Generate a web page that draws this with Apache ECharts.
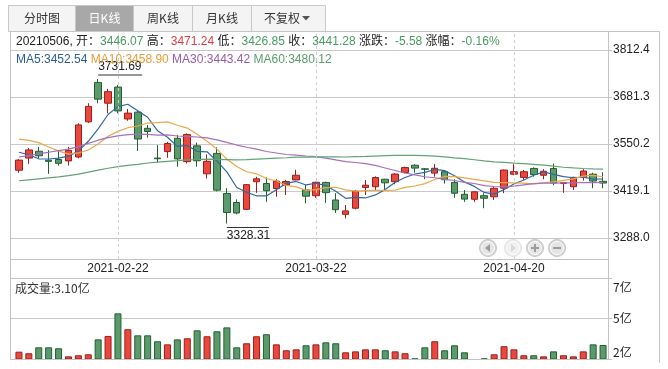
<!DOCTYPE html>
<html><head><meta charset="utf-8">
<script src="https://cdn.jsdelivr.net/npm/echarts@6/dist/echarts.min.js"></script>
<style>html,body{margin:0;padding:0;background:#fff}#c{width:668px;height:369px}</style>
</head><body><div id="c"></div>
<script>
const dates = ['2021-02-01','2021-02-02','2021-02-03','2021-02-04','2021-02-05','2021-02-08','2021-02-09','2021-02-10','2021-02-18','2021-02-19',
'2021-02-22','2021-02-23','2021-02-24','2021-02-25','2021-02-26','2021-03-01','2021-03-02','2021-03-03','2021-03-04','2021-03-05',
'2021-03-08','2021-03-09','2021-03-10','2021-03-11','2021-03-12','2021-03-15','2021-03-16','2021-03-17','2021-03-18','2021-03-19',
'2021-03-22','2021-03-23','2021-03-24','2021-03-25','2021-03-26','2021-03-29','2021-03-30','2021-03-31','2021-04-01','2021-04-02',
'2021-04-06','2021-04-07','2021-04-08','2021-04-09','2021-04-12','2021-04-13','2021-04-14','2021-04-15','2021-04-16','2021-04-19',
'2021-04-20','2021-04-21','2021-04-22','2021-04-23','2021-04-26','2021-04-27','2021-04-28','2021-04-29','2021-04-30','2021-05-06'];

// [open, close, low, high]
const ohlc = [
[3477,3505.28,3470,3508],[3511,3533.68,3495,3539],[3530,3517.31,3511,3542],[3505,3501.86,3467,3533],[3507,3496.33,3490,3533],
[3503,3532.44,3490,3542],[3514,3603.49,3510,3608],[3612,3655.09,3609,3664],[3722,3675.36,3664,3731.69],[3664,3696.17,3636,3704],
[3709,3642.44,3636,3715],[3620,3636.36,3615,3648],[3639,3564.08,3531,3643],[3594,3585.05,3568,3603],[3511,3509.08,3498,3547],
[3529,3551.40,3512,3556],[3566,3508.59,3487,3575],[3501,3576.90,3496,3580],[3545,3503.49,3487,3554],[3467,3501.99,3454,3521],
[3524,3421.41,3418,3541],[3412,3359.29,3328.31,3427],[3387,3357.74,3354,3396],[3368,3436.83,3366,3438],[3445,3453.08,3414,3459],
[3440,3419.95,3389,3457],[3426,3446.73,3403,3452],[3436,3445.55,3408,3450],[3450,3463.07,3449,3478],[3422,3404.66,3385,3436],
[3406,3443.44,3400,3445],[3443,3414.41,3386,3445],[3394,3367.06,3358,3413],[3354,3363.59,3343,3380],[3371,3418.33,3368,3422],
[3429,3435.30,3408,3450],[3431,3456.68,3422,3460],[3452,3441.91,3422,3453],[3445,3466.33,3438,3469],[3471,3484.39,3468,3487],
[3491,3482.97,3470,3494],[3481,3479.63,3452,3483],[3469,3482.48,3459,3494],[3473,3450.68,3440,3476],[3443,3412.95,3400,3452],
[3410,3396.47,3389,3422],[3396,3416.75,3389,3418],[3406,3398.99,3371,3413],[3403,3426.62,3394,3430],[3427,3477.55,3413,3479],
[3466,3472.94,3463,3494],[3457,3472.89,3450,3478],[3482,3465.11,3459,3485],[3463,3474.17,3452,3480],[3482,3441.17,3435,3496],
[3440,3442.61,3414,3444],[3431,3457.07,3422,3459],[3457,3474.90,3448,3480],[3466,3446.86,3427,3470],[3446.07,3441.28,3426.85,3471.24]];

// volume in 亿
const volumes = [2.67,2.57,2.95,2.95,2.89,2.37,2.44,2.50,3.46,3.68,
5.13,4.11,3.72,3.72,3.34,3.14,3.46,3.53,4.04,3.66,
3.98,4.23,2.95,3.21,3.66,3.79,3.14,2.76,2.82,3.08,
3.14,3.27,3.21,2.63,2.69,2.82,2.82,2.76,2.69,2.57,
2.24,2.95,3.34,2.76,3.08,2.63,2.21,2.24,2.50,3.02,
2.82,2.44,2.44,2.37,2.69,2.44,2.37,2.69,3.14,3.10];

const ma5 = [3527.3,3520.1,3508.9,3508.3,3510.9,3516.3,3530.3,3557.8,3592.5,3632.5,3654.5,3661.1,3642.9,3624.8,3587.4,3569.2,3543.7,3546.2,3529.9,3528.5,
3502.5,3472.6,3428.8,3415.4,3405.7,3405.4,3422.9,3440.4,3445.7,3436.0,3440.7,3434.2,3418.5,3398.6,3401.4,3399.7,3408.2,3423.2,3443.7,3456.9,
3466.5,3471.0,3479.2,3476.0,3461.8,3444.5,3431.9,3415.2,3410.4,3423.3,3438.6,3449.8,3463.0,3472.5,3465.3,3459.2,3456.0,3458.0,3452.5,3452.54];
const ma10 = [3563.8,3560.5,3554.0,3542.0,3531.0,3521.8,3525.2,3533.4,3550.4,3571.7,3585.4,3595.7,3600.4,3608.7,3610.0,3611.9,3602.4,3594.6,3577.4,3558.0,
3535.9,3508.1,3487.5,3472.7,3467.1,3453.9,3447.7,3434.6,3430.6,3420.8,3423.0,3428.6,3429.5,3422.2,3418.7,3420.2,3421.2,3420.9,3421.2,3429.1,
3433.1,3439.6,3451.2,3459.9,3459.3,3455.5,3451.5,3447.2,3443.2,3442.5,3441.5,3440.9,3439.1,3441.5,3444.3,3448.9,3452.9,3460.5,3462.5,3458.90];
const ma30 = [3514.0,3517.8,3523.1,3527.1,3531.5,3536.0,3542.9,3552.1,3560.8,3568.2,3572.8,3576.4,3576.9,3577.2,3575.1,3575.8,3572.5,3571.7,3569.7,3567.5,
3561.7,3554.8,3547.3,3541.1,3536.0,3529.2,3525.1,3520.9,3519.4,3516.8,3514.8,3510.8,3505.8,3501.2,3498.6,3495.3,3490.4,3483.3,3476.4,3469.3,
3464.0,3458.8,3456.1,3451.6,3448.4,3443.2,3440.1,3434.2,3431.7,3430.8,3432.6,3436.3,3439.9,3441.2,3440.8,3441.5,3441.9,3442.8,3442.3,3443.42];
const ma60 = [3447.7,3450.4,3453.0,3455.7,3458.3,3462.0,3466.3,3471.6,3477.1,3482.6,3487.1,3490.8,3493.5,3497.2,3499.5,3501.9,3503.9,3506.0,3506.9,3507.9,
3507.5,3506.6,3505.7,3506.8,3508.1,3509.3,3510.6,3511.9,3513.5,3513.5,3514.3,3514.2,3514.3,3514.0,3515.0,3515.6,3516.6,3517.6,3518.5,3518.7,
3518.3,3517.5,3516.4,3514.3,3511.7,3509.4,3506.2,3502.9,3500.6,3499.1,3497.0,3495.5,3493.5,3491.1,3488.3,3485.3,3483.4,3481.8,3480.8,3480.12];

const priceTickLabels = ['3288.0','3419.1','3550.2','3681.3','3812.4'];
const volTickLabels = ['2亿','5亿','7亿'];
const xLabelDates = ['2021-02-22','2021-03-22','2021-04-20'];
const tabs = ['分时图','日K线','周K线','月K线','不复权'];
const maNames = ['MA5','MA10','MA30','MA60'];

const FONT = '"Liberation Sans", Arial, "Noto Sans CJK SC", sans-serif';
const CJK = '"Noto Sans CJK SC", "Liberation Sans", sans-serif';
const UP_FILL = '#e8483d', UP_BORDER = '#9e1d1b', DN_FILL = '#5a9a6c', DN_BORDER = '#22602f';
const MA_COLORS = ['#2f69a3', '#eba748', '#a66fbb', '#62a276'];
const MA_TEXT = ['#2c5d97', '#e79c3a', '#9a5aac', '#5b9c6c'];
const GREEN_TXT = '#4a9a62', RED_TXT = '#e4393c';
const FRAME = '#c4c4c4';

const pMin = parseFloat(priceTickLabels[0]), pMax = parseFloat(priceTickLabels[priceTickLabels.length-1]);
const pStep = parseFloat(priceTickLabels[1]) - pMin;
const pxPerUnit = 188 / (pMax - pMin);
const dataMin = pMin - 21 / pxPerUnit, dataMax = pMax + 18 / pxPerUnit;

const isUp = i => ohlc[i][1] > ohlc[i][0] || (ohlc[i][1] === ohlc[i][0] && i > 0 && ohlc[i][1] >= ohlc[i-1][1]);
const n = ohlc.length;
const last = ohlc[n-1], prevClose = ohlc[n-2][1];
const chg = last[1] - prevClose, pct = chg / prevClose * 100;
const fmtSigned = v => (v >= 0 ? '' : '-') + Math.abs(v).toFixed(2);

const row1 = '{k|' + dates[n-1].replace(/-/g,'') + ', 开：}{' + (last[0] >= prevClose ? 'r' : 'g') + '|' + last[0].toFixed(2) + '}' +
  '{k| 高：}{' + (last[3] >= prevClose ? 'r' : 'g') + '|' + last[3].toFixed(2) + '}' +
  '{k| 低：}{' + (last[2] >= prevClose ? 'r' : 'g') + '|' + last[2].toFixed(2) + '}' +
  '{k| 收：}{' + (last[1] >= prevClose ? 'r' : 'g') + '|' + last[1].toFixed(2) + '}' +
  '{k| 涨跌：}{' + (chg >= 0 ? 'r' : 'g') + '|' + fmtSigned(chg) + '}' +
  '{k| 涨幅：}{' + (chg >= 0 ? 'r' : 'g') + '|' + fmtSigned(pct) + '%}';
const maArrs = [ma5, ma10, ma30, ma60];
const row2 = maNames.map((nm, k) => '{m' + k + '|' + nm + ':' + maArrs[k][n-1].toFixed(2) + '}').join('{k| }');

const richText = {
  k: {fill: '#222', font: '12px ' + FONT},
  g: {fill: GREEN_TXT, font: '12px ' + FONT},
  r: {fill: RED_TXT, font: '12px ' + FONT},
  m0: {fill: MA_TEXT[0], font: '12px ' + FONT},
  m1: {fill: MA_TEXT[1], font: '12px ' + FONT},
  m2: {fill: MA_TEXT[2], font: '12px ' + FONT},
  m3: {fill: MA_TEXT[3], font: '12px ' + FONT}
};

const line = (x1, y1, x2, y2, color, w, z) => ({type: 'line', z: z || 100, silent: true,
  shape: {x1, y1, x2, y2}, style: {stroke: color || FRAME, lineWidth: w || 1}});

const graphics = [];
// tabs
const tabX = [8.5, 75.5, 133.5, 192.5, 251.5, 325.5];
graphics.push({type: 'rect', z: 100, shape: {x: 8.5, y: 5.5, width: 317, height: 26}, style: {fill: '#f4f4f4', stroke: '#c8c8c8'}});
graphics.push({type: 'rect', z: 101, shape: {x: tabX[1], y: 5.5, width: tabX[2]-tabX[1], height: 26}, style: {fill: '#a8a8a8', stroke: '#c8c8c8'}});
for (let t = 2; t < 5; t++) graphics.push(line(tabX[t], 5.5, tabX[t], 31.5, '#c8c8c8', 1, 101));
tabs.forEach((t, k) => {
  const cx = k === 4 ? 282 : (tabX[k] + tabX[k+1]) / 2;
  graphics.push({type: 'text', z: 102, x: cx, y: 18.5, style: {text: t, font: '12px ' + CJK,
    fill: k === 1 ? '#fff' : '#333', align: 'center', verticalAlign: 'middle'}});
});
graphics.push({type: 'polygon', z: 102, shape: {points: [[302, 16], [310, 16], [306, 20.5]]}, style: {fill: '#555'}});
// frame
graphics.push(line(10, 31.5, 660, 31.5));
graphics.push(line(10.5, 31.5, 10.5, 359.5));
graphics.push(line(659.5, 31.5, 659.5, 363));
graphics.push(line(608.5, 31.5, 608.5, 359.5));
graphics.push(line(10, 259.5, 609, 259.5));
graphics.push(line(10, 278.5, 612, 278.5));
graphics.push(line(10, 359.5, 612, 359.5));
// header texts
graphics.push({type: 'text', z: 103, x: 16, y: 42, style: {text: row1, rich: richText, font: '12px ' + FONT, verticalAlign: 'middle'}});
graphics.push({type: 'text', z: 103, x: 16, y: 60, style: {text: row2, rich: richText, font: '12px ' + FONT, verticalAlign: 'middle'}});
graphics.push({type: 'text', z: 103, x: 15, y: 288, style: {text: '成交量:' + volumes[n-1].toFixed(2) + '亿', font: '12px ' + CJK, fill: '#333', verticalAlign: 'middle'}});
// navigation buttons
const navX = [488, 513, 535, 557], navY = 248;
navX.forEach((cx, k) => {
  const light = k === 1;
  graphics.push({type: 'circle', z: 104, shape: {cx, cy: navY, r: 8.5}, style: {fill: light ? '#ececec' : '#d6d6d6', stroke: light ? '#e2e2e2' : '#c6c6c6'}});
  graphics.push({type: 'circle', z: 105, shape: {cx, cy: navY, r: 6.5}, style: {fill: light ? '#f1f1f1' : '#e4e4e4', stroke: '#fff', lineWidth: 1}});
  const ic = light ? '#dadada' : '#9c9c9c';
  if (k === 0) graphics.push({type: 'polygon', z: 106, shape: {points: [[cx-3, navY], [cx+2, navY-4], [cx+2, navY+4]]}, style: {fill: ic}});
  if (k === 1) graphics.push({type: 'polygon', z: 106, shape: {points: [[cx+3, navY], [cx-2, navY-4], [cx-2, navY+4]]}, style: {fill: ic}});
  if (k >= 2) graphics.push(line(cx-4, navY, cx+4, navY, ic, 2, 106));
  if (k === 2) graphics.push(line(cx, navY-4, cx, navY+4, ic, 2, 106));
});

const volData = volumes.map((v, i) => ({value: v, itemStyle: isUp(i)
  ? {color: UP_FILL, borderColor: UP_BORDER, borderWidth: 1}
  : {color: DN_FILL, borderColor: DN_BORDER, borderWidth: 1}}));

const vMin = 2.2, vMax = 7.4;

const option = {
  animation: false,
  backgroundColor: '#fff',
  textStyle: {fontFamily: FONT},
  grid: [
    {left: 14, right: 60, top: 32, height: 227, outerBoundsMode: 'none'},
    {left: 10, right: 60, top: 50, height: 188, outerBoundsMode: 'none'},
    {left: 14, right: 60, top: 278, height: 81, outerBoundsMode: 'none'},
    {left: 10, right: 60, top: 278, height: 81, outerBoundsMode: 'none'}
  ],
  xAxis: [
    {type: 'category', gridIndex: 0, data: dates, boundaryGap: true,
      axisLine: {show: false}, axisTick: {show: false}, splitLine: {show: false},
      axisLabel: {interval: (i, v) => xLabelDates.includes(v), margin: 4, color: '#222', fontSize: 12, fontFamily: FONT, hideOverlap: false}},
    {type: 'category', gridIndex: 1, data: dates, show: false},
    {type: 'category', gridIndex: 2, data: dates, show: false},
    {type: 'category', gridIndex: 3, data: dates, show: false}
  ],
  yAxis: [
    {type: 'value', gridIndex: 0, min: dataMin, max: dataMax, show: false, splitLine: {show: false}},
    {type: 'value', gridIndex: 1, position: 'right', min: pMin, max: pMax + 1e-6, interval: pStep,
      axisLine: {show: false}, axisTick: {show: true, length: 4, lineStyle: {color: FRAME}},
      splitLine: {show: true, lineStyle: {color: '#c9c9c9', width: 1}},
      axisLabel: {margin: 5, color: '#222', fontSize: 12, fontFamily: FONT, hideOverlap: false,
        formatter: v => priceTickLabels[Math.round((v - pMin) / pStep)] || ''}},
    {type: 'value', gridIndex: 2, min: vMin, max: vMax, show: false, splitLine: {show: false}},
    {type: 'value', gridIndex: 3, position: 'right', min: vMin, max: vMax, interval: (vMax - vMin) / 2,
      axisLine: {show: false}, axisTick: {show: true, length: 4, lineStyle: {color: FRAME}},
      splitLine: {show: true, lineStyle: {color: '#c9c9c9', width: 1}},
      axisLabel: {margin: 5, color: '#222', fontSize: 12, fontFamily: CJK, hideOverlap: false,
        formatter: v => {
          const k = Math.round((v - vMin) / ((vMax - vMin) / 2));
          const st = k === 2 ? 't' : (k === 0 ? 'b' : 'm');
          return '{' + st + '|' + volTickLabels[k] + '}';
        },
        rich: {
          t: {padding: [18, 0, 0, 0], color: '#222', fontSize: 12, fontFamily: CJK},
          m: {color: '#222', fontSize: 12, fontFamily: CJK},
          b: {padding: [0, 0, 14, 0], color: '#222', fontSize: 12, fontFamily: CJK}
        }}}
  ],
  series: [
    {type: 'candlestick', name: 'K', xAxisIndex: 0, yAxisIndex: 0, data: ohlc, barWidth: 7, z: 2,
      itemStyle: {color: UP_FILL, color0: DN_FILL, borderColor: UP_BORDER, borderColor0: DN_BORDER, borderWidth: 1},
      markLine: {silent: true, symbol: ['none', 'none'], animation: false,
        label: {show: false}, lineStyle: {type: [3, 3], color: '#cfcfcf', width: 1},
        data: xLabelDates.map(d => ({xAxis: d}))},
      markPoint: {silent: true, animation: false,
        data: [
          {type: 'max', valueDim: 'highest', symbol: 'rect', symbolSize: [44, 1], symbolOffset: [22, -4],
            itemStyle: {color: '#333'},
            label: {show: true, position: [0, -14], color: '#222', fontSize: 12, fontFamily: FONT,
              formatter: p => Number(p.value).toFixed(2)}},
          {type: 'min', valueDim: 'lowest', symbol: 'rect', symbolSize: [42, 1], symbolOffset: [21, 4],
            itemStyle: {color: '#333'},
            label: {show: true, position: [0, 3], color: '#222', fontSize: 12, fontFamily: FONT,
              formatter: p => Number(p.value).toFixed(2)}}
        ]}},
    ...maArrs.map((arr, k) => ({type: 'line', name: maNames[k], xAxisIndex: 0, yAxisIndex: 0, data: arr, z: 3,
      symbol: 'none', smooth: false, silent: true, lineStyle: {color: MA_COLORS[k], width: 1.2}})),
    {type: 'bar', name: 'VOL', xAxisIndex: 2, yAxisIndex: 2, data: volData, barWidth: 7, z: 2}
  ],
  graphic: graphics
};

const chart = echarts.init(document.getElementById('c'), null, {renderer: 'canvas'});
chart.setOption(option);
</script>
</body></html>
